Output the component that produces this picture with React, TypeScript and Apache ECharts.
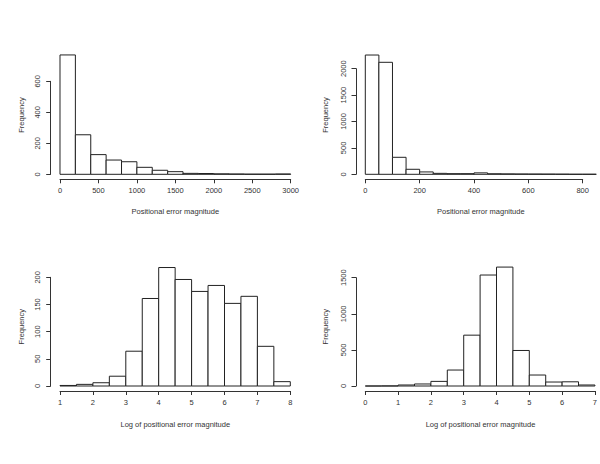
import React, { useEffect, useRef } from "react";
import * as echarts from "echarts";

// Panel 1: positional error magnitude (bins of 200)
const breaks1 = [0, 200, 400, 600, 800, 1000, 1200, 1400, 1600, 1800, 2000, 2200, 2400, 2600, 2800, 3000];
const counts1 = [770, 255, 127, 92, 81, 45, 26, 17, 6, 5, 3, 2, 1, 1, 2];

// Panel 2: positional error magnitude (bins of 50)
const breaks2 = [0, 50, 100, 150, 200, 250, 300, 350, 400, 450, 500, 550, 600, 650, 700, 750, 800, 850];
const counts2 = [2259, 2121, 322, 95, 45, 18, 12, 12, 27, 10, 8, 6, 5, 4, 3, 1, 1];

// Panel 3: log of positional error magnitude
const breaks3 = [1, 1.5, 2, 2.5, 3, 3.5, 4, 4.5, 5, 5.5, 6, 6.5, 7, 7.5, 8];
const counts3 = [1, 3, 6, 18, 64, 161, 218, 196, 174, 185, 152, 165, 73, 8];

// Panel 4: log of positional error magnitude
const breaks4 = [0, 0.5, 1, 1.5, 2, 2.5, 3, 3.5, 4, 4.5, 5, 5.5, 6, 6.5, 7];
const counts4 = [0, 1, 14, 28, 64, 221, 704, 1537, 1647, 492, 152, 55, 58, 14];

const xTitleTop = "Positional error magnitude";
const xTitleBottom = "Log of positional error magnitude";
const yTitle = "Frequency";

const FONT = "Liberation Sans, Arial, Helvetica, sans-serif";
const LINE = "#333";
const TEXT = "#333";

type Panel = {
  breaks: number[];
  counts: number[];
  xMin: number;
  xMax: number;
  xInterval: number;
  yMax: number;
  yInterval: number;
  grid: { left: number; top: number; width: number; height: number };
};

const panels: Panel[] = [
  { breaks: breaks1, counts: counts1, xMin: 0, xMax: 3000, xInterval: 500, yMax: 600, yInterval: 200,
    grid: { left: 60, top: 81.3, width: 230.7, height: 93 } },
  { breaks: breaks2, counts: counts2, xMin: 0, xMax: 800, xInterval: 200, yMax: 2000, yInterval: 500,
    grid: { left: 365.3, top: 68.7, width: 217.4, height: 105.6 } },
  { breaks: breaks3, counts: counts3, xMin: 1, xMax: 8, xInterval: 1, yMax: 200, yInterval: 50,
    grid: { left: 60, top: 277.3, width: 230.3, height: 108.7 } },
  { breaks: breaks4, counts: counts4, xMin: 0, xMax: 7, xInterval: 1, yMax: 1500, yInterval: 500,
    grid: { left: 365.3, top: 277.7, width: 230.4, height: 108.3 } },
];

const plain = (v: number) => String(v);

function buildOption() {
  const grids: any[] = [];
  const xAxes: any[] = [];
  const yAxes: any[] = [];
  const series: any[] = [];
  panels.forEach((p, i) => {
    grids.push({ ...p.grid, containLabel: false });
    xAxes.push({
      type: "value",
      gridIndex: i,
      min: p.xMin,
      max: p.xMax,
      interval: p.xInterval,
      offset: 5,
      position: "bottom",
      splitLine: { show: false },
      axisLine: { show: true, onZero: false, lineStyle: { color: LINE, width: 1 } },
      axisTick: { show: true, length: 4, lineStyle: { color: LINE } },
      axisLabel: { show: true, margin: 7, color: TEXT, fontSize: 7.5, fontFamily: FONT, showMinLabel: true, showMaxLabel: true, formatter: plain },
    });
    yAxes.push({
      type: "value",
      gridIndex: i,
      min: 0,
      max: p.yMax,
      interval: p.yInterval,
      offset: 9.3,
      position: "left",
      splitLine: { show: false },
      axisLine: { show: true, onZero: false, lineStyle: { color: LINE, width: 1 } },
      axisTick: { show: true, length: 4.5, lineStyle: { color: LINE } },
      axisLabel: { show: true, rotate: 90, margin: 9, color: TEXT, fontSize: 7.5, fontFamily: FONT, showMinLabel: true, showMaxLabel: true, formatter: plain },
    });
    const data = p.counts.map((c, k) => [p.breaks[k], p.breaks[k + 1], c]);
    series.push({
      type: "custom",
      xAxisIndex: i,
      yAxisIndex: i,
      clip: false,
      encode: { x: [0, 1], y: 2 },
      data,
      renderItem: (params: any, api: any) => {
        const x0 = api.value(0);
        const x1 = api.value(1);
        const c = api.value(2);
        const p0 = api.coord([x0, 0]);
        const p1 = api.coord([x1, c]);
        return {
          type: "rect",
          shape: { x: p0[0], y: p1[1], width: p1[0] - p0[0], height: p0[1] - p1[1] },
          style: { fill: "#fff", stroke: "#222", lineWidth: 1 },
        };
      },
    });
  });

  const titleStyle = { fill: TEXT, fontSize: 7.5, fontFamily: FONT, align: "center", verticalAlign: "middle" };
  const graphic: any[] = [
    { type: "text", x: 175.3, y: 211.7, style: { ...titleStyle, text: xTitleTop } },
    { type: "text", x: 480.8, y: 211.7, style: { ...titleStyle, text: xTitleTop } },
    { type: "text", x: 175.3, y: 424, style: { ...titleStyle, text: xTitleBottom } },
    { type: "text", x: 480.5, y: 424, style: { ...titleStyle, text: xTitleBottom } },
    { type: "text", x: 21, y: 115, rotation: Math.PI / 2, style: { ...titleStyle, text: yTitle } },
    { type: "text", x: 325.5, y: 115, rotation: Math.PI / 2, style: { ...titleStyle, text: yTitle } },
    { type: "text", x: 21, y: 326.7, rotation: Math.PI / 2, style: { ...titleStyle, text: yTitle } },
    { type: "text", x: 325.5, y: 326.7, rotation: Math.PI / 2, style: { ...titleStyle, text: yTitle } },
  ];

  return {
    animation: false,
    backgroundColor: "#fff",
    grid: grids,
    xAxis: xAxes,
    yAxis: yAxes,
    series,
    graphic,
  };
}

export default function App() {
  const ref = useRef<HTMLDivElement>(null);
  useEffect(() => {
    if (!ref.current) return;
    const chart = echarts.init(ref.current, undefined, { renderer: "svg" });
    chart.setOption(buildOption() as any);
    return () => chart.dispose();
  }, []);
  return (
    <div
      ref={ref}
      style={{ position: "fixed", left: 0, top: 0, width: 600, height: 464, background: "#fff" }}
    />
  );
}
